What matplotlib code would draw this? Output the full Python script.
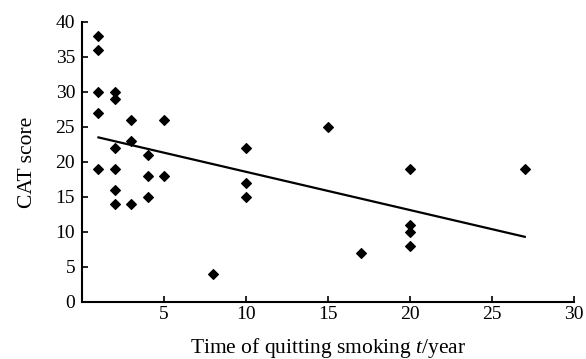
import matplotlib
matplotlib.use("Agg")
import matplotlib.pyplot as plt

plt.rcParams['font.family'] = ['Liberation Serif', 'DejaVu Serif']
plt.rcParams['mathtext.fontset'] = 'custom'
plt.rcParams['mathtext.it'] = 'Liberation Serif:italic'
plt.rcParams['mathtext.rm'] = 'Liberation Serif'

years = [1, 1, 1, 1, 1,
         2, 2, 2, 2, 2, 2,
         3, 3, 3,
         4, 4, 4,
         5, 5,
         8,
         10, 10, 10,
         15,
         17,
         20, 20, 20, 20,
         27]
cat = [38, 36, 30, 27, 19,
       30, 29, 22, 19, 16, 14,
       26, 23, 14,
       21, 18, 15,
       26, 18,
       4,
       22, 17, 15,
       25,
       7,
       19, 11, 10, 8,
       19]
fit_x = [1, 27]
fit_y = [23.5, 9.3]
x_ticks = [5, 10, 15, 20, 25, 30]
y_ticks = [0, 5, 10, 15, 20, 25, 30, 35, 40]

fig = plt.figure(figsize=(5.86, 3.59), dpi=100)
ax = fig.add_axes([0.14, 0.159, 0.8395, 0.78])
ax.scatter(years, cat, marker='D', s=24, color='black', zorder=3)
ax.plot(fit_x, fit_y, color='black', lw=1.6)
ax.set_xlim(0, 30)
ax.set_ylim(0, 40)
ax.set_xticks(x_ticks)
ax.set_yticks(y_ticks)
ax.tick_params(direction='in', length=4, width=1.2, labelsize=14)
ax.tick_params(axis='y', pad=5)
ax.tick_params(axis='x', pad=3)
for s in ['top', 'right']:
    ax.spines[s].set_visible(False)
for s in ['left', 'bottom']:
    ax.spines[s].set_linewidth(1.5)
ax.set_xlabel('Time of quitting smoking $t$/year', fontsize=15.5, labelpad=9)
ax.set_ylabel('CAT score', fontsize=15.5, labelpad=13)
fig.savefig('out.png', dpi=100)
